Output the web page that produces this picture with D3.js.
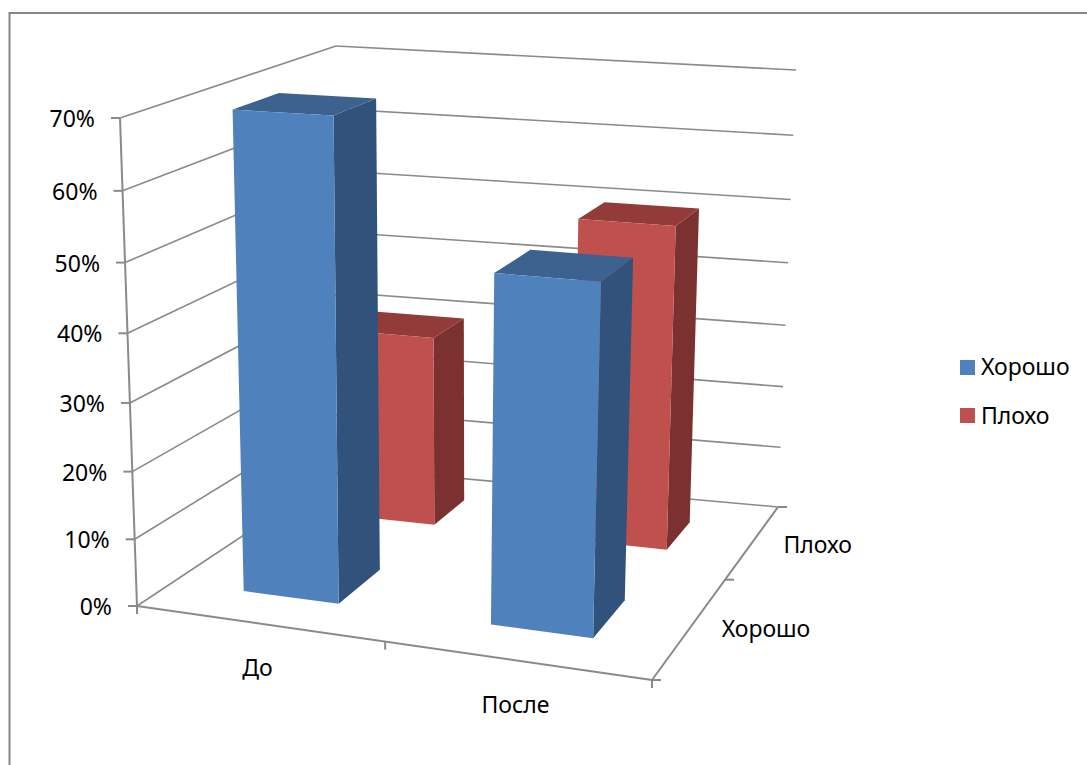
<!DOCTYPE html>
<html lang="ru">
<head>
<meta charset="utf-8">
<script src="https://cdn.jsdelivr.net/npm/d3@7/dist/d3.min.js"></script>
<style>
  html, body { margin: 0; padding: 0; background: #fff; }
  svg { display: block; }
  text { font-family: "Noto Sans", "Open Sans", sans-serif; fill: #000; }
</style>
</head>
<body>
<svg id="chart" width="1087" height="765"></svg>
<script>
// Survey results before and after, as a clustered 3D column chart.
const categories = ["До", "После"];
const seriesNames = ["Хорошо", "Плохо"];
const horoshoValues = [70, 50];
const plohoValues = [30, 50];
const valueTicks = [0, 10, 20, 30, 40, 50, 60, 70];

const seriesValues = [horoshoValues, plohoValues];
const seriesFill = [
  { front: "#4f81bd", side: "#31527b", top: "#3c628f" },
  { front: "#c0504d", side: "#7a3130", top: "#933b39" }
];

const W = 1087, H = 765;
const svg = d3.select("#chart").attr("viewBox", [0, 0, W, H]);

// Normalised scales for the three axes of the box.
const xScale = d3.scaleBand().domain(categories).range([0.1485, 0.8473]).paddingInner(0.6074).paddingOuter(0);
const zScale = d3.scaleBand().domain(seriesNames).range([0.135, 0.83]).paddingInner(0.61).paddingOuter(0);
const yScale = d3.scaleLinear().domain([0, 70]).range([0, 1]);

// Screen corners of the box, indexed [x][z][y].
const box = [
  [[[137, 606], [120, 118]], [[345, 468], [336, 46]]],
  [[[652, 680], [668, 151]], [[778, 507], [796, 70]]]
];
const persp = { x: 0.93, z: 1.38, y: 0.95 };

// Rational trilinear mapping from the unit box to the screen.
function project(u, v, t) {
  let sx = 0, sy = 0, sw = 0;
  for (const i of [0, 1]) for (const j of [0, 1]) for (const k of [0, 1]) {
    const w = (i ? u * persp.x : 1 - u) * (j ? v * persp.z : 1 - v) * (k ? t * persp.y : 1 - t);
    sx += w * box[i][j][k][0];
    sy += w * box[i][j][k][1];
    sw += w;
  }
  return [sx / sw, sy / sw];
}

const axisColor = "#8a8a8a";
const line = d3.line();

function seg(parent, a, b, width = 2) {
  parent.append("line")
    .attr("x1", a[0]).attr("y1", a[1]).attr("x2", b[0]).attr("y2", b[1])
    .attr("stroke", axisColor).attr("stroke-width", width);
}

// Outer frame: only the top and left edges fall inside the canvas.
svg.append("path")
  .attr("d", line([[9.5, H], [9.5, 13], [W, 13]]))
  .attr("fill", "none").attr("stroke", "#868686").attr("stroke-width", 2);

// Gridlines on the two walls.
const grid = svg.append("g");
valueTicks.forEach(v => {
  const t = yScale(v);
  seg(grid, project(0, 0, t), project(0, 1, t), 1.6);
  seg(grid, project(0, 1, t), project(1, 1, t), 1.6);
});

// Axis lines and tick marks.
const axes = svg.append("g");
seg(axes, project(0, 0, 0), project(0, 0, 1));
seg(axes, project(0, 0, 0), project(1, 0, 0));
seg(axes, project(1, 0, 0), project(1, 1, 0));
valueTicks.forEach(v => {
  const p = project(0, 0, yScale(v));
  seg(axes, [p[0] - 9, p[1]], p);
});
[0, 0.5, 1].forEach(u => {
  const p = project(u, 0, 0);
  seg(axes, p, [p[0], p[1] + 8]);
});
[0, 0.5, 1].forEach(v => {
  const p = project(1, v, 0);
  seg(axes, p, [p[0] + 9, p[1]]);
});

// Columns, rear series first so the front row overlaps it.
const bars = svg.append("g");
function drawColumn(cat, si) {
  const value = seriesValues[si][categories.indexOf(cat)];
  const x0 = xScale(cat), x1 = x0 + xScale.bandwidth();
  const z0 = zScale(seriesNames[si]), z1 = z0 + zScale.bandwidth();
  const t = yScale(value);
  const c = seriesFill[si];
  const g = bars.append("g");
  const face = (pts, fill) => g.append("path")
    .attr("d", line(pts) + "Z").attr("fill", fill);
  face([project(x1, z0, 0), project(x1, z1, 0), project(x1, z1, t), project(x1, z0, t)], c.side);
  face([project(x0, z0, t), project(x1, z0, t), project(x1, z1, t), project(x0, z1, t)], c.top);
  face([project(x0, z0, 0), project(x1, z0, 0), project(x1, z0, t), project(x0, z0, t)], c.front);
}
[1, 0].forEach(si => categories.forEach(cat => drawColumn(cat, si)));

// Value labels.
const labels = svg.append("g");
const fontSize = 23;
valueTicks.forEach(v => {
  const p = project(0, 0, yScale(v));
  labels.append("text")
    .attr("x", p[0] - 25).attr("y", p[1] + 9)
    .attr("text-anchor", "end").attr("font-size", fontSize)
    .text(v + "%");
});

// Category labels below the front edge.
categories.forEach(cat => {
  const p = project(xScale(cat) + xScale.bandwidth() / 2, 0, 0);
  labels.append("text")
    .attr("x", p[0]).attr("y", p[1] + 53)
    .attr("text-anchor", "middle").attr("font-size", fontSize)
    .text(cat);
});

// Series labels beside the right edge of the floor, centred on each half of it.
seriesNames.forEach((name, i) => {
  const p = project(1, (i + 0.5) / seriesNames.length, 0);
  labels.append("text")
    .attr("x", p[0] + 30).attr("y", p[1] + 12)
    .attr("font-size", fontSize)
    .text(name);
});

// Legend.
const legend = svg.append("g");
seriesNames.forEach((name, i) => {
  legend.append("rect")
    .attr("x", 960).attr("y", 360 + i * 48).attr("width", 15).attr("height", 15)
    .attr("fill", seriesFill[i].front);
  legend.append("text")
    .attr("x", 981).attr("y", 375 + i * 49).attr("font-size", fontSize)
    .text(name);
});
</script>
</body>
</html>
